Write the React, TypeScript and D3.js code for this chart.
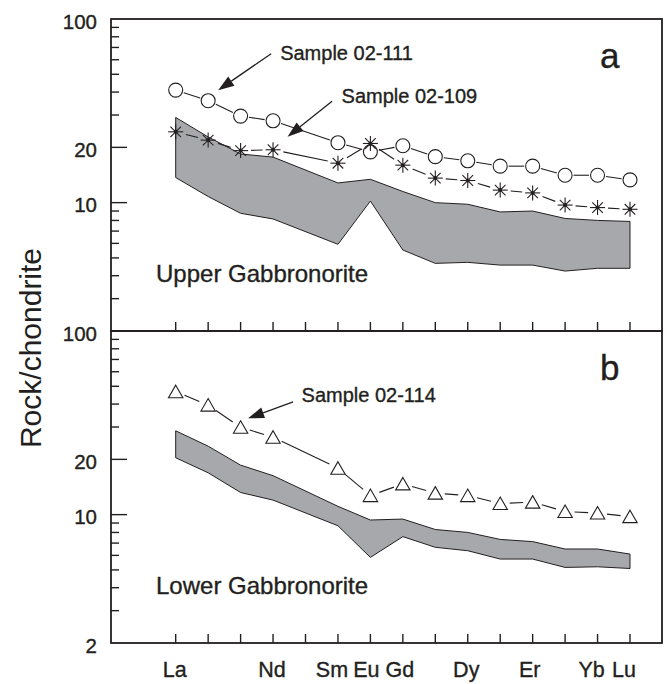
import * as d3 from 'd3';

// Rare earth elements on the x axis (Pm is a position but never plotted)
const REE = ['La', 'Ce', 'Pr', 'Nd', 'Pm', 'Sm', 'Eu', 'Gd', 'Tb', 'Dy', 'Ho', 'Er', 'Tm', 'Yb', 'Lu'];
const PLOTTED = ['La', 'Ce', 'Pr', 'Nd', 'Sm', 'Eu', 'Gd', 'Tb', 'Dy', 'Ho', 'Er', 'Tm', 'Yb', 'Lu'];
const LABELED = ['La', 'Nd', 'Sm', 'Eu', 'Gd', 'Dy', 'Er', 'Yb', 'Lu'];
// small hand nudges of the element labels, as in the original figure
const LABEL_DX = [-1, -1, -6, -4, -3, -1.5, -3, -6, -6];

// panel a – Upper Gabbronorite
const sample111 = [41, 35.9, 29.6, 27.9, 21.2, 18.9, 20.4, 17.8, 16.9, 15.8, 15.8, 14.1, 14.1, 13.3];
const sample109 = [24.3, 21.9, 19.2, 19.4, 16.4, 21.0, 16.0, 13.6, 13.2, 11.7, 11.3, 9.7, 9.4, 9.2];
const upperBandA = [29.1, 22.8, 18.4, 17.7, 12.8, 13.4, 11.5, 10.0, 9.8, 8.9, 9.0, 8.2, 8.0, 7.9];
const lowerBandA = [13.7, 10.8, 8.75, 8.15, 5.93, 10.2, 5.52, 4.67, 4.73, 4.57, 4.57, 4.24, 4.39, 4.39];

// panel b – Lower Gabbronorite
const sample114 = [46.7, 39.5, 29.9, 26.4, 17.9, 12.7, 14.7, 13.1, 12.7, 11.5, 11.7, 10.4, 10.2, 9.75];
const upperBandB = [28.6, 23.6, 18.6, 16.3, 11.1, 9.35, 9.46, 8.3, 8.0, 7.33, 7.13, 6.5, 6.5, 6.1];
const lowerBandB = [20.4, 16.9, 13.2, 12.0, 8.7, 5.85, 7.59, 6.64, 6.36, 5.73, 5.73, 5.16, 5.2, 5.09];

const MAJOR_TICKS = [10, 20];
const MINOR_TICKS = [3, 4, 5, 6, 7, 8, 9, 30, 40, 50, 60, 70, 80, 90];

const INK = '#231f20';
const BAND = '#a7a8ab';
const FONT = '"Liberation Sans", Arial, Helvetica, sans-serif';
// the scanned Helvetica is a touch heavier than Liberation regular
const TEXT_STYLE = { fill: INK, fontFamily: FONT, stroke: INK, strokeWidth: 0.35 };

const LEFT = 111;
const RIGHT = 662;

const x = d3.scalePoint<string>().domain(REE).range([175.7, 630]);

type Marker = 'circle' | 'asterisk' | 'triangle';

interface Series {
  values: number[];
  marker: Marker;
  gap: number;
}

interface Note {
  text: string;
  element: string;
  series: number[];
  tip: [number, number]; // px offset of arrow tip from the data point
  tail: [number, number]; // px offset of arrow tail from the data point
  textAt: [number, number]; // px offset of text start from the data point
}

interface PanelProps {
  top: number;
  bottom: number;
  letter: string;
  rockName: string;
  upper: number[];
  lower: number[];
  series: Series[];
  notes: Note[];
  tickLabels: number[];
}

function MarkerShape({ kind, cx, cy }: { kind: Marker; cx: number; cy: number }) {
  if (kind === 'circle') {
    return <circle cx={cx} cy={cy} r={7} fill="#fff" stroke={INK} strokeWidth={1.1} />;
  }
  if (kind === 'triangle') {
    const pts = [[cx, cy - 6.5], [cx + 7.2, cy + 6], [cx - 7.2, cy + 6]];
    return <polygon points={pts.map((p) => p.join(',')).join(' ')} fill="#fff" stroke={INK} strokeWidth={1.1} />;
  }
  const r = 7.5;
  return (
    <g stroke={INK} strokeWidth={1.1}>
      {[0, 45, 90, 135].map((a) => {
        const rad = (a * Math.PI) / 180;
        return (
          <line key={a} x1={cx - r * Math.cos(rad)} y1={cy - r * Math.sin(rad)} x2={cx + r * Math.cos(rad)} y2={cy + r * Math.sin(rad)} />
        );
      })}
      <circle cx={cx} cy={cy} r={2} fill={INK} stroke="none" />
    </g>
  );
}

function Panel({ top, bottom, letter, rockName, upper, lower, series, notes, tickLabels }: PanelProps) {
  const y = d3.scaleLog().domain([2, 100]).range([bottom, top]);

  const band = d3
    .area<number>()
    .x((_, i) => x(PLOTTED[i]) as number)
    .y0((_, i) => y(lower[i]))
    .y1((d) => y(d));

  return (
    <g>
      <path d={band(upper) ?? undefined} fill={BAND} stroke={INK} strokeWidth={1} strokeLinejoin="round" />

      {series.map((s, si) => {
        const pts = s.values.map((v, i) => [x(PLOTTED[i]) as number, y(v)]);
        return (
          <g key={si}>
            {pts.slice(1).map((p, i) => {
              const q = pts[i];
              const dx = p[0] - q[0];
              const dy = p[1] - q[1];
              const len = Math.hypot(dx, dy);
              if (len <= 2 * s.gap) return null;
              const ux = dx / len;
              const uy = dy / len;
              return (
                <line key={i} x1={q[0] + ux * s.gap} y1={q[1] + uy * s.gap} x2={p[0] - ux * s.gap} y2={p[1] - uy * s.gap} stroke={INK} strokeWidth={1.1} />
              );
            })}
            {pts.map((p, i) => (
              <MarkerShape key={i} kind={s.marker} cx={p[0]} cy={p[1]} />
            ))}
          </g>
        );
      })}

      {notes.map((n) => {
        const idx = PLOTTED.indexOf(n.element);
        const px = x(n.element) as number;
        const py = y(n.series[idx]);
        const tx = px + n.tip[0];
        const ty = py + n.tip[1];
        const sx = px + n.tail[0];
        const sy = py + n.tail[1];
        const len = Math.hypot(tx - sx, ty - sy);
        const ux = (tx - sx) / len;
        const uy = (ty - sy) / len;
        const headL = 16;
        const headW = 5.5;
        const bx = tx - ux * headL;
        const by = ty - uy * headL;
        const head = [
          [tx, ty],
          [bx - uy * headW, by + ux * headW],
          [bx + uy * headW, by - ux * headW],
        ];
        return (
          <g key={n.text}>
            <line x1={sx} y1={sy} x2={bx} y2={by} stroke={INK} strokeWidth={1.3} />
            <polygon points={head.map((p) => p.join(',')).join(' ')} fill={INK} />
            <text x={px + n.textAt[0]} y={py + n.textAt[1]} fontSize={20} {...TEXT_STYLE}>
              {n.text}
            </text>
          </g>
        );
      })}

      <text x={156} y={top + 263} fontSize={24} {...TEXT_STYLE}>
        {rockName}
      </text>
      <text x={600} y={top + 49} fontSize={35} {...TEXT_STYLE}>
        {letter}
      </text>

      {/* left axis ticks */}
      {MAJOR_TICKS.map((t) => (
        <line key={`M${t}`} x1={LEFT} x2={LEFT + 16} y1={y(t)} y2={y(t)} stroke={INK} strokeWidth={1.4} />
      ))}
      {MINOR_TICKS.map((t) => (
        <line key={`m${t}`} x1={LEFT} x2={LEFT + 8} y1={y(t)} y2={y(t)} stroke={INK} strokeWidth={1.4} />
      ))}
      {tickLabels.map((t) => (
        <text key={`l${t}`} x={97} y={y(t) + 9.5} textAnchor="end" fontSize={20.5} {...TEXT_STYLE}>
          {t}
        </text>
      ))}

      {/* bottom ticks */}
      {REE.map((e) => (
        <line key={e} x1={x(e)} x2={x(e)} y1={bottom} y2={bottom - 9} stroke={INK} strokeWidth={1.4} />
      ))}

      <rect x={LEFT} y={top} width={RIGHT - LEFT} height={bottom - top} fill="none" stroke={INK} strokeWidth={1.8} />
    </g>
  );
}

export default function App() {
  return (
    <svg width={667} height={684} viewBox="0 0 667 684" style={{ position: 'absolute', left: 0, top: 0, background: '#fff' }}>
      <rect width={667} height={684} fill="#fff" />
      <Panel
        top={19}
        bottom={331}
        letter="a"
        rockName="Upper Gabbronorite"
        upper={upperBandA}
        lower={lowerBandA}
        series={[
          { values: sample111, marker: 'circle', gap: 8.5 },
          { values: sample109, marker: 'asterisk', gap: 10.5 },
        ]}
        notes={[
          { text: 'Sample 02-111', element: 'Ce', series: sample111, tip: [10, -10.5], tail: [63, -47], textAt: [72, -40.5] },
          { text: 'Sample 02-109', element: 'Nd', series: sample109, tip: [14.5, -13], tail: [59, -48.5], textAt: [68.5, -46.5] },
        ]}
        tickLabels={[100, 20, 10]}
      />
      <Panel
        top={331}
        bottom={643}
        letter="b"
        rockName="Lower Gabbronorite"
        upper={upperBandB}
        lower={lowerBandB}
        series={[{ values: sample114, marker: 'triangle', gap: 9.5 }]}
        notes={[
          { text: 'Sample 02-114', element: 'Pr', series: sample114, tip: [7.5, -9], tail: [52.5, -25.5], textAt: [61, -25.5] },
        ]}
        tickLabels={[100, 20, 10, 2]}
      />
      {LABELED.map((e, i) => (
        <text key={e} x={(x(e) as number) + LABEL_DX[i]} y={677} textAnchor="middle" fontSize={21.5} {...TEXT_STYLE}>
          {e}
        </text>
      ))}
      <text transform="translate(41,348) rotate(-90)" textAnchor="middle" fontSize={30} fill={INK} fontFamily={FONT}>
        Rock/chondrite
      </text>
    </svg>
  );
}
